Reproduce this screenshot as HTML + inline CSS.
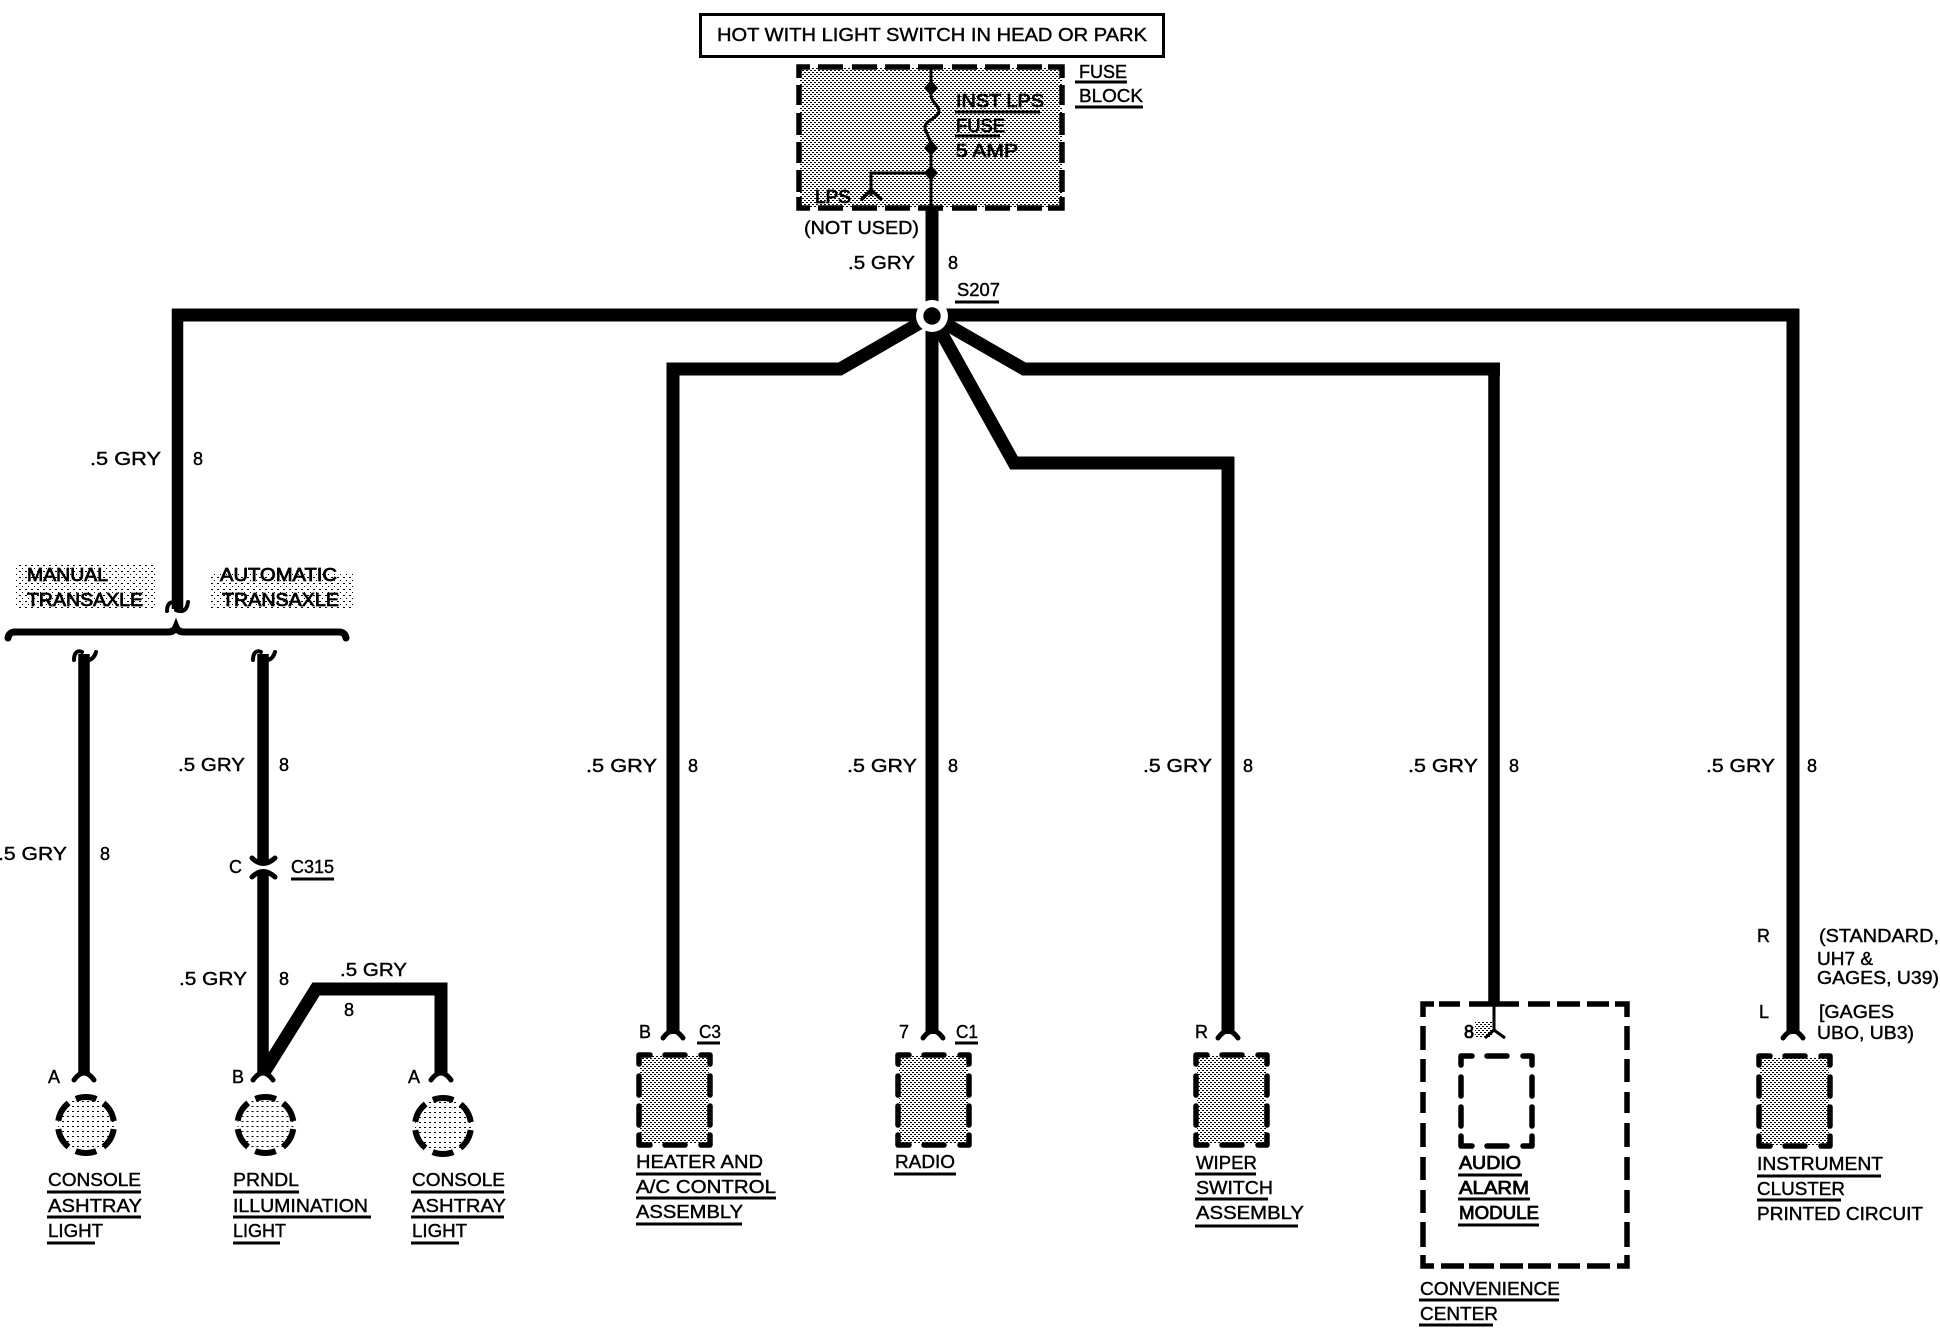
<!DOCTYPE html>
<html>
<head>
<meta charset="utf-8">
<title>Wiring diagram</title>
<style>
html,body{margin:0;padding:0;background:#fff;width:1940px;height:1328px;overflow:hidden}
svg{display:block}
text{font-family:"Liberation Sans",sans-serif;font-size:18px;fill:#000;stroke:#000;stroke-width:.4px}
text.b{stroke-width:.8px}
.w{fill:none;stroke:#000;stroke-width:13;stroke-linejoin:miter}
.v{fill:none;stroke:#000;stroke-width:11.5}
.c{fill:none;stroke:#000;stroke-width:5;stroke-linecap:round}
.h{fill:none;stroke:#000;stroke-width:4;stroke-linecap:round}
.u{fill:none;stroke:#000;stroke-width:3}
.d{fill:none;stroke:#000;stroke-width:5.5}
.r{fill:none;stroke:#000;stroke-width:5.5;stroke-linecap:round;stroke-linejoin:round}
</style>
</head>
<body>
<svg xmlns="http://www.w3.org/2000/svg" width="1940" height="1328" viewBox="0 0 1940 1328">
<defs>
<pattern id="p" width="4" height="4" patternUnits="userSpaceOnUse" shape-rendering="crispEdges">
<rect x="0" y="0" width="2" height="1"/><rect x="2" y="2" width="2" height="1"/>
</pattern>
<pattern id="q" width="5" height="5" patternUnits="userSpaceOnUse" shape-rendering="crispEdges">
<rect x="1" y="1" width="2" height="1"/>
</pattern>
<pattern id="s" width="6" height="6" patternUnits="userSpaceOnUse" shape-rendering="crispEdges">
<rect x="1" y="1" width="2" height="1"/><rect x="4" y="4" width="1" height="1"/>
</pattern>
<path id="bx" class="r" d="M3,12V3H14M29,3H49M65,3H74V12M3,24V43M3,54V73M74,24V43M74,54V73M3,83V93H14M29,93H49M65,93H74V83"/>
<path id="cap" class="c" d="M-10,-3Q-5,-10 0,-10Q5,-10 10,-3"/>
<g id="cir"><circle r="28" fill="url(#q)"/><circle r="28" fill="none" stroke="#000" stroke-width="6" stroke-dasharray="21 8.32" stroke-dashoffset="-4.1"/></g>
</defs>

<!-- header box -->
<rect x="700.5" y="14.5" width="463" height="42" fill="#fff" stroke="#000" stroke-width="3"/>
<text x="717" y="41" textLength="430" lengthAdjust="spacingAndGlyphs">HOT WITH LIGHT SWITCH IN HEAD OR PARK</text>

<!-- fuse block -->
<rect x="800" y="68" width="262" height="140" fill="url(#p)"/>
<path class="d" d="M799,78V67H810M818,67H843M852,67H877M885,67H910M918,67H943M952,67H977M985,67H1010M1017,67H1042M1048,67H1062V78M799,85V105M799,113V135M799,142V163M799,170V192M799,197V208H810M818,208H843M852,208H877M885,208H910M918,208H943M952,208H977M985,208H1010M1017,208H1042M1048,208H1062V197M1062,85V105M1062,113V135M1062,142V163M1062,170V192"/>
<path fill="none" stroke="#000" stroke-width="3" d="M931,67V95C931,102 939,105 939,111C939,118 925,120 925,127C925,134 931,136 931,148V207M931,173H871V196"/>
<path d="M931,80L938,88L931,96L924,88ZM931,140L938,148L931,156L924,148ZM931,165L938,173L931,181L924,173Z"/>
<path fill="none" stroke="#000" stroke-width="3.5" d="M861,200L871,190L882,200"/>
<text class="b" x="956" y="107" textLength="88" lengthAdjust="spacingAndGlyphs">INST LPS</text><path class="u" d="M955,112H1040"/>
<text class="b" x="956" y="132" textLength="49" lengthAdjust="spacingAndGlyphs">FUSE</text><path class="u" d="M955,136H1000"/>
<text class="b" x="956" y="157" textLength="62" lengthAdjust="spacingAndGlyphs">5 AMP</text>
<text class="b" x="815" y="203" textLength="36" lengthAdjust="spacingAndGlyphs">LPS</text>
<text x="1079" y="78" textLength="48" lengthAdjust="spacingAndGlyphs">FUSE</text><path class="u" d="M1075,82H1127"/>
<text x="1079" y="102" textLength="64" lengthAdjust="spacingAndGlyphs">BLOCK</text><path class="u" d="M1075,107H1143"/>
<text x="804" y="234" textLength="115" lengthAdjust="spacingAndGlyphs">(NOT USED)</text>
<text x="848" y="269" textLength="67" lengthAdjust="spacingAndGlyphs">.5 GRY</text>
<text x="948" y="269">8</text>
<text x="957" y="296" textLength="43" lengthAdjust="spacingAndGlyphs">S207</text><path class="u" d="M955,302H999"/>

<!-- main wires -->
<path class="w" d="M932,207V316"/>
<path class="v" d="M177.500,309V609"/>
<path class="w" d="M172,315H932"/>
<path class="w" d="M932,315H1799"/>
<path class="w" d="M1793,309V1034"/>
<path class="w" d="M932,316V1034"/>
<path class="w" d="M932,316L840,369H673V1034"/>
<path class="w" d="M932,316L1024,369H1500"/>
<path class="v" d="M1494,363V1005"/>
<path class="w" d="M932,316L1014,463H1234"/>
<path class="w" d="M1228,457V1034"/>
<circle cx="932" cy="316" r="16" fill="#fff"/>
<circle cx="932" cy="316" r="8.7" fill="#000"/>

<!-- transaxle -->
<rect x="15" y="565" width="142" height="45" fill="url(#s)"/>
<rect x="210" y="572" width="143" height="38" fill="url(#s)"/>
<text class="b" x="27" y="581" textLength="81" lengthAdjust="spacingAndGlyphs">MANUAL</text>
<text class="b" x="27" y="606" textLength="116" lengthAdjust="spacingAndGlyphs">TRANSAXLE</text>
<text class="b" x="220" y="581" textLength="117" lengthAdjust="spacingAndGlyphs">AUTOMATIC</text>
<text class="b" x="222" y="606" textLength="117" lengthAdjust="spacingAndGlyphs">TRANSAXLE</text>
<path class="h" d="M167,611C167,604 171,600 175,604M176,610C183,613 187,610 188,602"/>
<path fill="none" stroke="#000" stroke-width="7" stroke-linecap="round" d="M8,638Q9,632 15,632H168Q174,632 176,627Q178,632 184,632H339Q345,632 346,638"/>

<!-- manual wire -->
<path class="v" d="M84,654V1073"/>
<path class="h" d="M74,660C74,652 78,650 82,652M88,660C92,660 95,656 96,652"/>
<text x="-2" y="860" textLength="69" lengthAdjust="spacingAndGlyphs">.5 GRY</text>
<text x="100" y="860">8</text>
<text x="48" y="1083">A</text>
<use href="#cap" x="84" y="1083"/>
<use href="#cir" x="86" y="1125"/>

<!-- automatic wire -->
<path class="v" d="M263,654V861M263,872V1073"/>
<path class="h" d="M253,660C253,652 257,650 261,652M267,660C271,660 274,656 275,652"/>
<text x="178" y="771" textLength="67" lengthAdjust="spacingAndGlyphs">.5 GRY</text>
<text x="279" y="771">8</text>
<path class="c" d="M252,858Q263,869 275,858M252,877Q263,866 275,877"/>
<text x="229" y="873">C</text>
<text x="291" y="873" textLength="43" lengthAdjust="spacingAndGlyphs">C315</text><path class="u" d="M291,879H334"/>
<text x="179" y="985" textLength="68" lengthAdjust="spacingAndGlyphs">.5 GRY</text>
<text x="279" y="985">8</text>
<path class="w" d="M263,1074L316,989H441V1073"/>
<text x="340" y="976" textLength="67" lengthAdjust="spacingAndGlyphs">.5 GRY</text>
<text x="344" y="1016">8</text>
<text x="232" y="1083">B</text>
<text x="408" y="1083">A</text>
<use href="#cap" x="263" y="1083"/>
<use href="#cap" x="441" y="1083"/>
<use href="#cir" x="265.500" y="1125"/>
<use href="#cir" x="443" y="1126"/>

<text x="48" y="1186" textLength="93" lengthAdjust="spacingAndGlyphs">CONSOLE</text><path class="u" d="M47,1192H141"/>
<text x="48" y="1212" textLength="94" lengthAdjust="spacingAndGlyphs">ASHTRAY</text><path class="u" d="M47,1217H141"/>
<text x="48" y="1237" textLength="55" lengthAdjust="spacingAndGlyphs">LIGHT</text><path class="u" d="M47,1243H95"/>
<text x="233" y="1186" textLength="66" lengthAdjust="spacingAndGlyphs">PRNDL</text><path class="u" d="M233,1192H299"/>
<text x="233" y="1212" textLength="135" lengthAdjust="spacingAndGlyphs">ILLUMINATION</text><path class="u" d="M233,1217H371"/>
<text x="233" y="1237" textLength="53" lengthAdjust="spacingAndGlyphs">LIGHT</text><path class="u" d="M233,1243H280"/>
<text x="412" y="1186" textLength="93" lengthAdjust="spacingAndGlyphs">CONSOLE</text><path class="u" d="M411,1192H504"/>
<text x="412" y="1212" textLength="94" lengthAdjust="spacingAndGlyphs">ASHTRAY</text><path class="u" d="M411,1217H504"/>
<text x="412" y="1237" textLength="55" lengthAdjust="spacingAndGlyphs">LIGHT</text><path class="u" d="M411,1243H459"/>

<!-- wire labels -->
<text x="90" y="465" textLength="71" lengthAdjust="spacingAndGlyphs">.5 GRY</text><text x="193" y="465">8</text>
<text x="586" y="772" textLength="71" lengthAdjust="spacingAndGlyphs">.5 GRY</text><text x="688" y="772">8</text>
<text x="847" y="772" textLength="70" lengthAdjust="spacingAndGlyphs">.5 GRY</text><text x="948" y="772">8</text>
<text x="1143" y="772" textLength="69" lengthAdjust="spacingAndGlyphs">.5 GRY</text><text x="1243" y="772">8</text>
<text x="1408" y="772" textLength="70" lengthAdjust="spacingAndGlyphs">.5 GRY</text><text x="1509" y="772">8</text>
<text x="1706" y="772" textLength="69" lengthAdjust="spacingAndGlyphs">.5 GRY</text><text x="1807" y="772">8</text>

<!-- C3 heater -->
<text x="639" y="1038">B</text>
<text x="699" y="1038" textLength="22" lengthAdjust="spacingAndGlyphs">C3</text><path class="u" d="M697,1043H720"/>
<use href="#cap" x="673" y="1041"/>
<rect x="640" y="1056" width="69" height="88" fill="url(#p)"/>
<use href="#bx" x="636" y="1052"/>
<text x="636" y="1168" textLength="127" lengthAdjust="spacingAndGlyphs">HEATER AND</text><path class="u" d="M636,1174H761"/>
<text x="636" y="1193" textLength="140" lengthAdjust="spacingAndGlyphs">A/C CONTROL</text><path class="u" d="M636,1198H776"/>
<text x="636" y="1218" textLength="107" lengthAdjust="spacingAndGlyphs">ASSEMBLY</text><path class="u" d="M636,1224H742"/>

<!-- C1 radio -->
<text x="899" y="1038">7</text>
<text x="956" y="1038" textLength="22" lengthAdjust="spacingAndGlyphs">C1</text><path class="u" d="M955,1043H978"/>
<use href="#cap" x="933" y="1041"/>
<rect x="899" y="1056" width="69" height="88" fill="url(#p)"/>
<use href="#bx" x="895" y="1052"/>
<text x="895" y="1168" textLength="60" lengthAdjust="spacingAndGlyphs">RADIO</text><path class="u" d="M894,1174H956"/>

<!-- wiper -->
<text x="1195" y="1038">R</text>
<use href="#cap" x="1228" y="1041"/>
<rect x="1197" y="1056" width="69" height="88" fill="url(#p)"/>
<use href="#bx" x="1193" y="1052"/>
<text x="1196" y="1169" textLength="61" lengthAdjust="spacingAndGlyphs">WIPER</text><path class="u" d="M1195,1174H1256"/>
<text x="1196" y="1194" textLength="77" lengthAdjust="spacingAndGlyphs">SWITCH</text><path class="u" d="M1195,1199H1268"/>
<text x="1196" y="1219" textLength="108" lengthAdjust="spacingAndGlyphs">ASSEMBLY</text><path class="u" d="M1195,1226H1298"/>

<!-- convenience center -->
<path class="d" d="M1423,1017V1004H1434M1439,1004H1460M1469,1004H1519M1528,1004H1550M1557,1004H1580M1587,1004H1609M1615,1004H1627V1017M1423,1026V1050M1423,1059V1082M1423,1092V1113M1423,1123V1147M1423,1157V1180M1423,1190V1213M1423,1222V1247M1423,1255V1266H1434M1441,1266H1464M1469,1266H1494M1500,1266H1523M1528,1266H1551M1558,1266H1580M1587,1266H1610M1617,1266H1627V1255M1627,1026V1050M1627,1059V1082M1627,1092V1113M1627,1123V1147M1627,1157V1180M1627,1190V1213M1627,1222V1247"/>
<rect x="1475" y="1022" width="17" height="15" fill="url(#p)"/>
<path fill="none" stroke="#000" stroke-width="3" d="M1494,1006V1030M1485,1038L1494,1030L1505,1038"/>
<text class="b" x="1464" y="1038">8</text>
<use href="#bx" x="1458" y="1053"/>
<text class="b" x="1459" y="1169" textLength="62" lengthAdjust="spacingAndGlyphs">AUDIO</text><path class="u" d="M1458,1175H1522"/>
<text class="b" x="1459" y="1194" textLength="70" lengthAdjust="spacingAndGlyphs">ALARM</text><path class="u" d="M1458,1199H1530"/>
<text class="b" x="1459" y="1219" textLength="80" lengthAdjust="spacingAndGlyphs">MODULE</text><path class="u" d="M1458,1225H1539"/>
<text x="1420" y="1295" textLength="140" lengthAdjust="spacingAndGlyphs">CONVENIENCE</text><path class="u" d="M1419,1300H1559"/>
<text x="1420" y="1320" textLength="78" lengthAdjust="spacingAndGlyphs">CENTER</text><path class="u" d="M1419,1325H1493"/>

<!-- instrument cluster -->
<use href="#cap" x="1793" y="1041"/>
<rect x="1760" y="1057" width="69" height="88" fill="url(#p)"/>
<use href="#bx" x="1756" y="1053"/>
<text x="1757" y="942">R</text>
<text x="1819" y="942" textLength="120" lengthAdjust="spacingAndGlyphs">(STANDARD,</text>
<text x="1817" y="965" textLength="56" lengthAdjust="spacingAndGlyphs">UH7 &amp;</text>
<text x="1817" y="984" textLength="122" lengthAdjust="spacingAndGlyphs">GAGES, U39)</text>
<text x="1759" y="1018">L</text>
<text x="1819" y="1018" textLength="75" lengthAdjust="spacingAndGlyphs">[GAGES</text>
<text x="1817" y="1039" textLength="97" lengthAdjust="spacingAndGlyphs">UBO, UB3)</text>
<text x="1757" y="1170" textLength="126" lengthAdjust="spacingAndGlyphs">INSTRUMENT</text><path class="u" d="M1757,1176H1881"/>
<text x="1757" y="1195" textLength="88" lengthAdjust="spacingAndGlyphs">CLUSTER</text><path class="u" d="M1757,1200H1841"/>
<text x="1757" y="1220" textLength="166" lengthAdjust="spacingAndGlyphs">PRINTED CIRCUIT</text>
</svg>
</body>
</html>
